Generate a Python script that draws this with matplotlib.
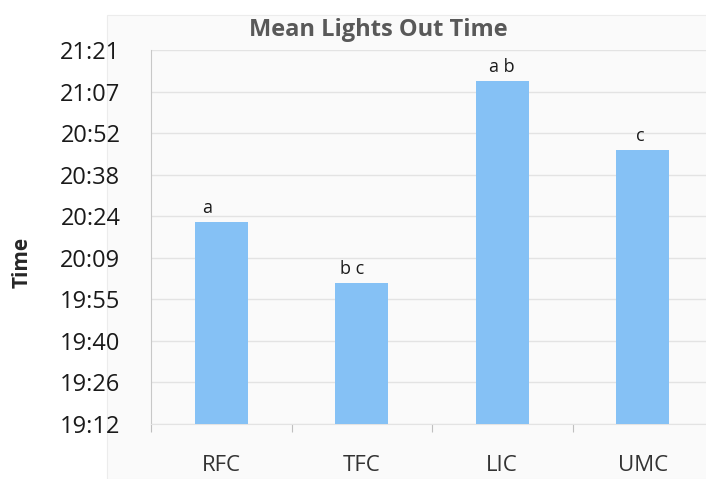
import matplotlib.pyplot as plt
import matplotlib.patches as mpatches
from matplotlib.ticker import FixedLocator, FuncFormatter

# data: mean lights-out time per group (hours, minutes)
groups = ['RFC', 'TFC', 'LIC', 'UMC']
mean_time = [(20, 22), (20, 1), (21, 11), (20, 47)]
letters = ['a', 'b c', 'a b', 'c']
tick_labels = ['19:12', '19:26', '19:40', '19:55', '20:09',
               '20:24', '20:38', '20:52', '21:07', '21:21']

# Excel stores times as fractions of a day
values = [(h * 60 + m) / 1440 for h, m in mean_time]
tick_vals = [0.80 + 0.01 * i for i in range(len(tick_labels))]

plt.rcParams['font.family'] = ['Open Sans', 'DejaVu Sans']

fig = plt.figure(figsize=(7.06, 4.79), dpi=100)
fig.patch.set_facecolor('white')
# faint chart-area background
fig.patches.append(mpatches.Rectangle((107 / 706, 0), 1, 1 - 15 / 479,
                                      transform=fig.transFigure,
                                      facecolor='#fafafa', edgecolor='#ececec',
                                      linewidth=0.8, zorder=-5))

ax = fig.add_axes([151 / 706, 55 / 479, 555 / 706, 374 / 479])
ax.set_facecolor('none')

x = list(range(len(groups)))
ax.bar(x, values, width=0.377, color='#85c1f5', zorder=3)

ax.set_ylim(0.80, 0.89)
ax.set_xlim(-0.5, -0.5 + 555 / 140.5)

ax.yaxis.set_major_locator(FixedLocator(tick_vals))
ax.yaxis.set_major_formatter(FuncFormatter(lambda v, p: tick_labels[int(round((v - 0.80) / 0.01))]))
ax.tick_params(axis='y', length=0, pad=22, labelsize=17, labelcolor='#1a1a1a')

ax.set_xticks([i + 0.5 for i in x[:-1]] + [-0.5])
ax.set_xticklabels([])
ax.set_xticks(x, minor=True)
ax.set_xticklabels(groups, minor=True)
ax.tick_params(axis='x', which='major', length=6, color='#bfbfbf', direction='out')
ax.tick_params(axis='x', which='minor', length=0, pad=22, labelsize=16, labelcolor='#333333')

ax.grid(axis='y', color='#e3e3e3', linewidth=1.0, zorder=0)
for side in ['top', 'right']:
    ax.spines[side].set_visible(False)
ax.spines['left'].set_color('#c8c8c8')
ax.spines['bottom'].set_color('#e3e3e3')

offsets = [-0.1, -0.07, 0.0, -0.02]
for xi, v, lab, dx in zip(x, values, letters, offsets):
    ax.text(xi + dx, v + 0.0012, lab, ha='center', va='bottom', fontsize=13, color='#1a1a1a', zorder=4)

fig.text(378 / 706, 1 - 30 / 479, 'Mean Lights Out Time', ha='center', va='center',
         fontsize=17, fontweight='bold', color='#595959')
fig.text(22 / 706, 1 - 262 / 479, 'Time', ha='center', va='center', rotation=90,
         fontsize=15, fontweight='bold', color='#262626')

fig.savefig('out.png', dpi=100)
